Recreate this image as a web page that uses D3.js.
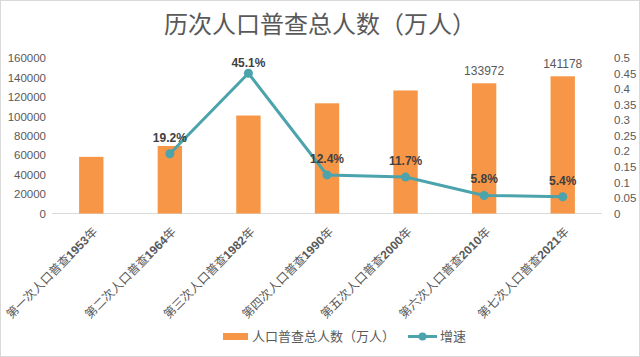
<!DOCTYPE html>
<html><head><meta charset="utf-8">
<script src="https://cdn.jsdelivr.net/npm/d3@7/dist/d3.min.js"></script>
<style>body{margin:0;background:#fff;}svg{display:block;font-family:"Noto Sans CJK SC","Noto Sans",sans-serif;}</style>
</head><body>
<script>
const categories = ["第一次人口普查1953年","第二次人口普查1964年","第三次人口普查1982年","第四次人口普查1990年","第五次人口普查2000年","第六次人口普查2010年","第七次人口普查2021年"];
const population = [58260, 69458, 100818, 113368, 126583, 133972, 141178];
const growth = [null, 0.192, 0.451, 0.124, 0.117, 0.058, 0.054];
const growthLabels = [null, "19.2%", "45.1%", "12.4%", "11.7%", "5.8%", "5.4%"];
const popLabels = [null, null, null, null, null, "133972", "141178"];
const leftTicks = [0,20000,40000,60000,80000,100000,120000,140000,160000];
const rightTicks = [0,0.05,0.1,0.15,0.2,0.25,0.3,0.35,0.4,0.45,0.5];

const W=640,H=357;
const svg=d3.select("body").append("svg").attr("width",W).attr("height",H);
svg.append("rect").attr("x",0.5).attr("y",0.5).attr("width",W-1).attr("height",H-1).attr("fill","#fff").attr("stroke","#d9d9d9");

const x=d3.scaleBand().domain(categories).range([52,602]).paddingInner(0.69).paddingOuter(0.345);
const yL=d3.scaleLinear().domain([0,160000]).range([213.5,58]);
const yR=d3.scaleLinear().domain([0,0.5]).range([213.5,58]);

svg.append("text").attr("x",320).attr("y",33).attr("text-anchor","middle").attr("font-size",24).attr("fill","#595959").text("历次人口普查总人数（万人）");

// baseline
svg.append("line").attr("x1",52).attr("x2",602).attr("y1",yL(0)).attr("y2",yL(0)).attr("stroke","#d9d9d9");

// left axis
const gl=svg.append("g").attr("transform","translate(46,0)").call(d3.axisLeft(yL).tickValues(leftTicks).tickSize(0).tickPadding(0).tickFormat(d3.format("d")));
gl.select(".domain").remove();
gl.selectAll("text").attr("font-size",11.5).attr("fill","#595959").attr("font-family","Liberation Sans, Arial, sans-serif");

const gr=svg.append("g").attr("transform","translate(614,0)").call(d3.axisRight(yR).tickValues(rightTicks).tickSize(0).tickPadding(0).tickFormat(d=>d3.format("")(+d.toFixed(2))));
gr.select(".domain").remove();
gr.selectAll("text").attr("font-size",11.5).attr("fill","#595959").attr("font-family","Liberation Sans, Arial, sans-serif");

// bars
svg.selectAll("rect.bar").data(categories).join("rect").attr("class","bar")
 .attr("x",d=>x(d)).attr("width",x.bandwidth())
 .attr("y",(d,i)=>yL(population[i])).attr("height",(d,i)=>yL(0)-yL(population[i]))
 .attr("fill","#F79646");

svg.selectAll("text.pl").data(categories).join("text").attr("class","pl")
 .attr("x",d=>x(d)+x.bandwidth()/2).attr("y",(d,i)=>yL(population[i])-8)
 .attr("text-anchor","middle").attr("font-size",12).attr("fill","#595959")
 .attr("font-family","Liberation Sans, Arial, sans-serif")
 .text((d,i)=>popLabels[i]||"");

// line
const pts=categories.map((c,i)=>({c,v:growth[i],l:growthLabels[i]})).filter(d=>d.v!=null);
const line=d3.line().x(d=>x(d.c)+x.bandwidth()/2).y(d=>yR(d.v));
svg.append("path").datum(pts).attr("d",line).attr("fill","none").attr("stroke","#4BA3AC").attr("stroke-width",3);
svg.selectAll("circle.pt").data(pts).join("circle").attr("class","pt")
 .attr("cx",d=>x(d.c)+x.bandwidth()/2).attr("cy",d=>yR(d.v)).attr("r",4.5).attr("fill","#4BA3AC");
svg.selectAll("text.gl").data(pts).join("text").attr("class","gl")
 .attr("x",d=>x(d.c)+x.bandwidth()/2).attr("y",d=>Math.max(yR(d.v)-12,67))
 .attr("text-anchor","middle").attr("font-size",12).attr("font-weight","bold").attr("fill","#404040")
 .attr("font-family","Liberation Sans, Arial, sans-serif")
 .text(d=>d.l);

// x labels rotated
const gx=svg.append("g");
categories.forEach(c=>{
  const cx=x(c)+x.bandwidth()/2+7, cy=yL(0)+19;
  const t=gx.append("text").attr("transform",`translate(${cx},${cy}) rotate(-45)`).attr("text-anchor","end").attr("font-size",12).attr("fill","#595959");
  const m=c.match(/^(\D+)(\d+)(\D*)$/);
  t.append("tspan").text(m[1]);
  t.append("tspan").attr("font-weight","bold").attr("font-family","Liberation Sans, Arial, sans-serif").text(m[2]);
  t.append("tspan").text(m[3]);
});

// legend
svg.append("rect").attr("x",223).attr("y",333).attr("width",25).attr("height",7).attr("fill","#F79646");
svg.append("text").attr("x",252).attr("y",341).attr("font-size",13).attr("fill","#595959").text("人口普查总人数（万人）");
svg.append("line").attr("x1",408).attr("x2",437).attr("y1",336.5).attr("y2",336.5).attr("stroke","#4BA3AC").attr("stroke-width",3);
svg.append("circle").attr("cx",422.5).attr("cy",336.5).attr("r",4).attr("fill","#4BA3AC");
svg.append("text").attr("x",440).attr("y",341).attr("font-size",13).attr("fill","#595959").text("增速");
</script>
</body></html>
